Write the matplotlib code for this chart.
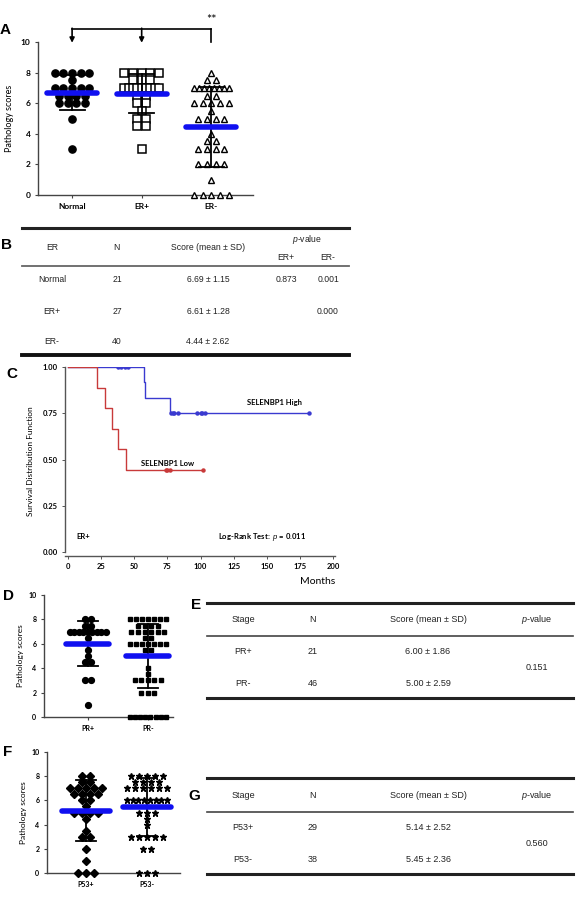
import numpy as np
import matplotlib
matplotlib.use("Agg")
import matplotlib.pyplot as plt

plt.rcParams['font.family'] = ['Lato', 'DejaVu Sans']
plt.rcParams['mathtext.fontset'] = 'custom'
plt.rcParams['mathtext.it'] = 'Liberation Sans:italic'
plt.rcParams['mathtext.rm'] = 'Liberation Sans'

W, H = 582, 898

# ---------------- data ----------------
# Panel A: pathology scores by ER status
a_groups = ['Normal', 'ER+', 'ER-']
a_normal = [8]*5 + [7.5] + [7]*5 + [6.5]*4 + [6]*4 + [5] + [3]
a_erpos = [8]*5 + [7.5]*3 + [7]*9 + [6.5]*2 + [6]*2 + [5.5] + [5]*2 + [4.5]*2 + [3]
a_erneg = ([8] + [7.5]*2 + [7]*8 + [6.5]*2 + [6]*5 + [5.5] + [5]*4 + [4] +
           [3.5]*2 + [3]*4 + [2]*4 + [1] + [0]*5)
a_mean = [6.69, 6.61, 4.44]
a_sd = [1.15, 1.28, 2.62]

# Panel B table
b_rows = ['Normal', 'ER+', 'ER-']
b_n = [21, 27, 40]
b_score = ['6.69 ± 1.15', '6.61 ± 1.28', '4.44 ± 2.62']
b_p_erpos = ['0.873', '', '']
b_p_erneg = ['0.001', '0.000', '']

# Panel C: Kaplan-Meier, ER+ cases (months, 1=event 0=censored)
high_t = [38, 40, 43, 45, 57, 58, 77, 78, 79, 80, 83, 97, 100, 101, 103, 182]
high_e = [0, 0, 0, 0, 1, 1, 1, 0, 0, 0, 0, 0, 0, 0, 0, 0]
low_t = [22, 28, 33, 38, 44, 74, 75, 77, 102]
low_e = [1, 1, 1, 1, 1, 0, 0, 0, 0]

# Panel D: PR status
d_groups = ['PR+', 'PR-']
d_prpos = [8]*2 + [7.5]*2 + [7]*9 + [6.5] + [5.5] + [5] + [4.5]*2 + [3]*2 + [1]
d_prneg = ([8]*7 + [7.5]*4 + [7]*6 + [6.5]*2 + [6]*7 + [5.5]*2 + [4] + [3.5] +
           [3]*5 + [2]*3 + [0]*8)
d_mean = [6.00, 5.00]
d_sd = [1.86, 2.59]

# Panel E table
e_rows = ['PR+', 'PR-']
e_n = [21, 46]
e_score = ['6.00 ± 1.86', '5.00 ± 2.59']
e_p = '0.151'

# Panel F: P53 status
f_groups = ['P53+', 'P53-']
f_p53pos = ([8]*2 + [7.5]*2 + [7]*5 + [6.5]*4 + [6]*2 + [5.5] + [5]*4 + [4.5] +
            [3.5] + [3]*2 + [2] + [1] + [0]*3)
f_p53neg = ([8]*5 + [7.5]*4 + [7]*6 + [6]*8 + [5]*3 + [4.5] + [4] + [3]*5 +
            [2]*2 + [0]*3)
f_mean = [5.14, 5.45]
f_sd = [2.52, 2.36]

# Panel G table
g_rows = ['P53+', 'P53-']
g_n = [29, 38]
g_score = ['5.14 ± 2.52', '5.45 ± 2.36']
g_p = '0.560'

BLUE = '#1010f0'
TXT = '#222222'

fig = plt.figure(figsize=(W/100, H/100), dpi=100)
bg = fig.add_axes([0, 0, 1, 1], zorder=-1)
bg.set_xlim(0, W)
bg.set_ylim(H, 0)
bg.axis('off')


def px_axes(x0, y0, x1, y1):
    return fig.add_axes([x0/W, 1 - y1/H, (x1 - x0)/W, (y1 - y0)/H])


def swarm_x(center, values, spacing, maxhalf):
    vals = np.asarray(values, dtype=float)
    xs = np.zeros(len(vals))
    for v in np.unique(vals):
        idx = np.where(vals == v)[0]
        k = len(idx)
        sp = spacing if k < 2 else min(spacing, 2*maxhalf/(k - 1))
        xs[idx] = center + (np.arange(k) - (k - 1)/2)*sp
    return xs, vals


def style_scatter_axes(ax, labels, fs):
    ax.set_ylim(0, 10)
    ax.set_yticks([0, 2, 4, 6, 8, 10])
    ax.set_xticks(range(1, len(labels) + 1))
    ax.set_xticklabels(labels)
    for s in ['top', 'right']:
        ax.spines[s].set_visible(False)
    for s in ['left', 'bottom']:
        ax.spines[s].set_color('#444444')
        ax.spines[s].set_linewidth(1.0)
    ax.tick_params(length=2.5, width=0.8, color='#444444', labelsize=fs, pad=3)
    for lab in ax.get_xticklabels() + ax.get_yticklabels():
        lab.set_fontweight('bold')
    ax.patch.set_alpha(0)


def draw_groups(ax, groups, means, sds, specs, spacing, maxhalf, capw, mhalf, mlw):
    for i, (vals, sp) in enumerate(zip(groups, specs)):
        c = i + 1
        xs, ys = swarm_x(c, vals, spacing, maxhalf)
        ax.plot(xs, ys, linestyle='none', clip_on=False, zorder=3, **sp)
        lo, hi = means[i] - sds[i], means[i] + sds[i]
        ax.plot([c, c], [lo, hi], color='black', lw=1.3, zorder=4)
        ax.plot([c - capw, c + capw], [lo, lo], color='black', lw=1.3, zorder=4)
        ax.plot([c - capw, c + capw], [hi, hi], color='black', lw=1.3, zorder=4)
        ax.plot([c - mhalf, c + mhalf], [means[i], means[i]], color=BLUE,
                lw=mlw, solid_capstyle='round', zorder=5)


# ---------------- Panel A ----------------
axA = px_axes(38, 42, 253, 195)
axA.set_xlim(0.51, 3.6)
style_scatter_axes(axA, a_groups, 6)
specA = [dict(marker='o', ms=5.2, mfc='black', mec='black'),
         dict(marker='s', ms=5.2, mfc='white', mec='black', mew=1.1),
         dict(marker='^', ms=4.6, mfc='white', mec='black', mew=1.0)]
draw_groups(axA, [a_normal, a_erpos, a_erneg], a_mean, a_sd, specA,
            0.125, 0.25, 0.18, 0.36, 4)
axA.set_ylabel('Pathology scores', fontsize=6.5, labelpad=5)
yb = 10.85
axA.plot([1, 3], [yb, yb], color='black', lw=1.2, clip_on=False)
axA.plot([3, 3], [yb, 10.0], color='black', lw=1.2, clip_on=False)
for c in [1, 2]:
    axA.annotate('', xy=(c, 9.95), xytext=(c, yb + 0.05), annotation_clip=False,
                 arrowprops=dict(arrowstyle='-|>', color='black', lw=1.2,
                                 mutation_scale=7, shrinkA=0, shrinkB=0))
axA.text(3, 11.45, '**', ha='center', va='center', fontsize=9, clip_on=False)

# ---------------- Panel B table ----------------
tf = 'Liberation Sans'
bg.plot([22, 349], [228, 228], color='#222222', lw=2.2)
bg.plot([22, 349], [266, 266], color='#666666', lw=1.3)
bg.plot([22, 349], [355, 355], color='#111111', lw=2.8)
hdr = dict(fontsize=6.2, family=tf, color=TXT, ha='center', va='center')
bg.text(52, 248, 'ER', **hdr)
bg.text(116, 248, 'N', **hdr)
bg.text(208, 248, 'Score (mean ± SD)', **hdr)
bg.text(307, 239, r'$\mathit{p}$-value', **hdr)
bg.text(286, 257, 'ER+', **hdr)
bg.text(328, 257, 'ER-', **hdr)
for r, ypx in enumerate([280, 311, 342]):
    bg.text(52, ypx, b_rows[r], **hdr)
    bg.text(117, ypx, str(b_n[r]), **hdr)
    bg.text(208, ypx, b_score[r], **hdr)
    bg.text(286, ypx, b_p_erpos[r], **hdr)
    bg.text(328, ypx, b_p_erneg[r], **hdr)


# ---------------- Panel C ----------------
def km_curve(times, events):
    order = np.argsort(times, kind='stable')
    t = np.asarray(times)[order]
    e = np.asarray(events)[order]
    at_risk = len(t)
    s = 1.0
    xs, ys = [0.0], [1.0]
    cx, cy = [], []
    for ti, ei in zip(t, e):
        if ei:
            s *= (at_risk - 1)/at_risk
            xs.append(ti)
            ys.append(s)
        else:
            cx.append(ti)
            cy.append(s)
        at_risk -= 1
    xs.append(t[-1])
    ys.append(s)
    return xs, ys, cx, cy


axC = px_axes(65, 367, 335, 556)
axC.set_xlim(-2.3, 201.5)
axC.set_ylim(-0.02, 1.0)
for tt, ee, col in [(high_t, high_e, '#3a3ad0'), (low_t, low_e, '#c83a3a')]:
    xs, ys, cx, cy = km_curve(tt, ee)
    axC.step(xs, ys, where='post', color=col, lw=1.0)
    axC.plot(cx, cy, linestyle='none', marker='o', ms=2.2, color=col)
axC.set_xticks(range(0, 201, 25))
axC.set_yticks([0, 0.25, 0.5, 0.75, 1.0])
axC.set_yticklabels(['0.00', '0.25', '0.50', '0.75', '1.00'])
for s in ['top', 'right']:
    axC.spines[s].set_visible(False)
for s in ['left', 'bottom']:
    axC.spines[s].set_color('#555555')
    axC.spines[s].set_linewidth(1.0)
axC.spines['left'].set_bounds(0, 1)
axC.tick_params(length=2, width=0.7, color='#555555', labelsize=5.5, pad=3)
for lab in axC.get_xticklabels() + axC.get_yticklabels():
    lab.set_fontweight('bold')
axC.set_ylabel('Survival Distribution Function', fontsize=6, labelpad=6)
axC.patch.set_alpha(0)
axC.text(156, 0.81, 'SELENBP1 High', fontsize=5.5, fontweight='bold', ha='center', va='center')
axC.text(75, 0.48, 'SELENBP1 Low', fontsize=5.5, fontweight='bold', ha='center', va='center')
axC.text(6, 0.085, 'ER+', fontsize=5.5, fontweight='bold', ha='left', va='center')
axC.text(113, 0.085, 'Log-Rank Test:  $\\mathit{p}$ = 0.011', fontsize=5.5,
         fontweight='bold', ha='left', va='center')
bg.text(318, 582, 'Months', fontsize=7.5, ha='center', va='center')

# ---------------- Panel D ----------------
axD = px_axes(44, 595, 173, 717)
axD.set_xlim(0.27, 2.42)
style_scatter_axes(axD, d_groups, 5)
specD = [dict(marker='o', ms=4.2, mfc='black', mec='black'),
         dict(marker='s', ms=3.0, mfc='black', mec='black')]
draw_groups(axD, [d_prpos, d_prneg], d_mean, d_sd, specD,
            0.11, 0.3, 0.17, 0.36, 4)
axD.set_ylabel('Pathology scores', fontsize=6, labelpad=3)

# ---------------- Panel E table ----------------
hdr2 = dict(fontsize=6.5, family=tf, color=TXT, ha='center', va='center')
bg.plot([207, 573], [603, 603], color='#222222', lw=2.2)
bg.plot([207, 573], [636, 636], color='#444444', lw=1.2)
bg.plot([207, 573], [698, 698], color='#222222', lw=2.2)
bg.text(243, 620, 'Stage', **hdr2)
bg.text(313, 620, 'N', **hdr2)
bg.text(428, 620, 'Score (mean ± SD)', **hdr2)
bg.text(537, 620, r'$\mathit{p}$-value', **hdr2)
for r, ypx in enumerate([652, 683]):
    bg.text(243, ypx, e_rows[r], **hdr2)
    bg.text(313, ypx, str(e_n[r]), **hdr2)
    bg.text(428, ypx, e_score[r], **hdr2)
bg.text(537, 667, e_p, **hdr2)

# ---------------- Panel F ----------------
axF = px_axes(47, 752, 180, 873)
axF.set_xlim(0.36, 2.54)
style_scatter_axes(axF, f_groups, 5)
specF = [dict(marker='D', ms=3.8, mfc='black', mec='black'),
         dict(marker='*', ms=5.0, mfc='black', mec='black')]
draw_groups(axF, [f_p53pos, f_p53neg], f_mean, f_sd, specF,
            0.13, 0.33, 0.17, 0.4, 4)
axF.set_ylabel('Pathology scores', fontsize=6, labelpad=3)

# ---------------- Panel G table ----------------
bg.plot([207, 573], [778, 778], color='#222222', lw=2.2)
bg.plot([207, 573], [812, 812], color='#444444', lw=1.2)
bg.plot([207, 573], [874, 874], color='#222222', lw=2.2)
bg.text(243, 795, 'Stage', **hdr2)
bg.text(313, 795, 'N', **hdr2)
bg.text(428, 795, 'Score (mean ± SD)', **hdr2)
bg.text(537, 795, r'$\mathit{p}$-value', **hdr2)
for r, ypx in enumerate([827, 859]):
    bg.text(243, ypx, g_rows[r], **hdr2)
    bg.text(313, ypx, str(g_n[r]), **hdr2)
    bg.text(428, ypx, g_score[r], **hdr2)
bg.text(537, 843, g_p, **hdr2)

# ---------------- panel letters ----------------
let = dict(fontsize=11, fontweight='bold', family='Liberation Sans',
           ha='center', va='center')
bg.text(5, 30, 'A', **let)
bg.text(6, 245, 'B', **let)
bg.text(12, 374, 'C', **let)
bg.text(8, 596, 'D', **let)
bg.text(196, 605, 'E', **let)
bg.text(8, 752, 'F', **let)
bg.text(194, 796, 'G', **let)

fig.savefig('out.png', dpi=100)
plt.close(fig)
